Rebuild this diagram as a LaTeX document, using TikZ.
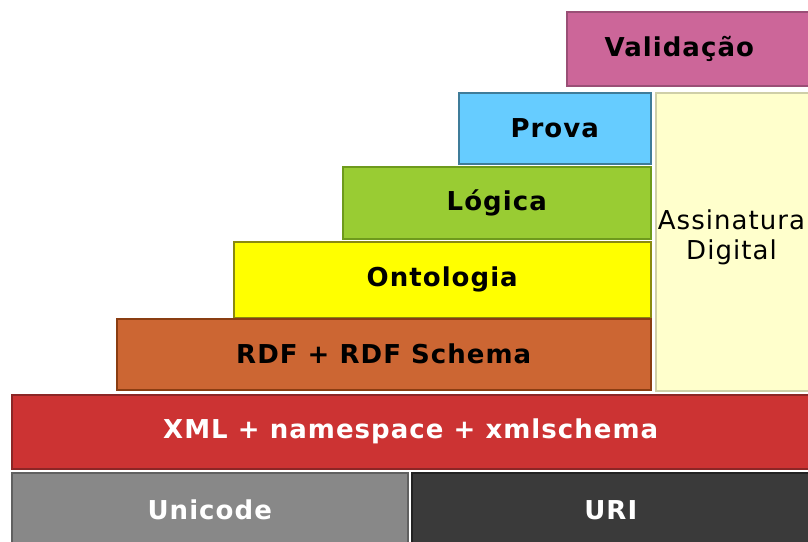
\documentclass[tikz,border=0pt]{standalone}
\usepackage{fontspec}
\setmainfont{DejaVu Sans}[LetterSpace=4]

\definecolor{valcol}{HTML}{CC6699}   \definecolor{valline}{HTML}{9A4F76}
\definecolor{provacol}{HTML}{66CCFF} \definecolor{provaline}{HTML}{3F7C99}
\definecolor{logcol}{HTML}{99CC33}   \definecolor{logline}{HTML}{6E9A1C}
\definecolor{ontocol}{HTML}{FFFF00}  \definecolor{ontoline}{HTML}{8A8A10}
\definecolor{rdfcol}{HTML}{CC6633}   \definecolor{rdfline}{HTML}{8A3D12}
\definecolor{assincol}{HTML}{FFFFCC} \definecolor{assinline}{HTML}{CFCFA8}
\definecolor{xmlcol}{HTML}{CC3333}   \definecolor{xmlline}{HTML}{8C2626}
\definecolor{unicol}{HTML}{888888}   \definecolor{uniline}{HTML}{606060}
\definecolor{uricol}{HTML}{3A3A3A}   \definecolor{uriline}{HTML}{222222}

\tikzset{
	layertext/.style = {font = \bfseries\fontsize{26}{30}\selectfont},
	layer/.style = {rectangle, anchor = north west, inner sep = 0pt, line width = 1.5pt, layertext}
}

\begin{document}
\begin{tikzpicture}[x = 1pt, y = -1pt]
	%	frame
	\useasboundingbox (0, 0) rectangle (808, 541);
	
	%	top of the stack
	\node[layer, fill = valcol, draw = valline, minimum width = 260, minimum height = 74,
		label = {[layertext, xshift = -17.5]center:Validação}] (validacao) at (566, 11) {};
	\node[layer, fill = provacol, draw = provaline, minimum width = 192, minimum height = 71] (prova) at (458, 92) {Prova};
	\node[layer, fill = logcol, draw = logline, minimum width = 308, minimum height = 72] (logica) at (342, 166) {Lógica};
	\node[layer, fill = ontocol, draw = ontoline, minimum width = 417, minimum height = 76] (ontologia) at (233, 241) {Ontologia};
	\node[layer, fill = rdfcol, draw = rdfline, minimum width = 534, minimum height = 71] (rdf) at (116, 318) {RDF + RDF Schema};
	
	%	side column
	\node[layer, fill = assincol, draw = assinline, minimum width = 160, minimum height = 298] (assinatura) at (655, 92) {};
	\node[font = \fontsize{26}{30}\selectfont, align = center] (assintexto) at (731.5, 237) {Assinatura\\Digital};
	
	%	base
	\node[layer, fill = xmlcol, draw = xmlline, text = white, minimum width = 798, minimum height = 74] (xml) at (11, 394) {XML + namespace + xmlschema};
	\node[layer, fill = unicol, draw = uniline, text = white, minimum width = 396, minimum height = 75] (unicode) at (11, 472) {Unicode};
	\node[layer, fill = uricol, draw = uriline, text = white, minimum width = 398, minimum height = 75] (uri) at (411, 472) {URI};
\end{tikzpicture}
\end{document}
